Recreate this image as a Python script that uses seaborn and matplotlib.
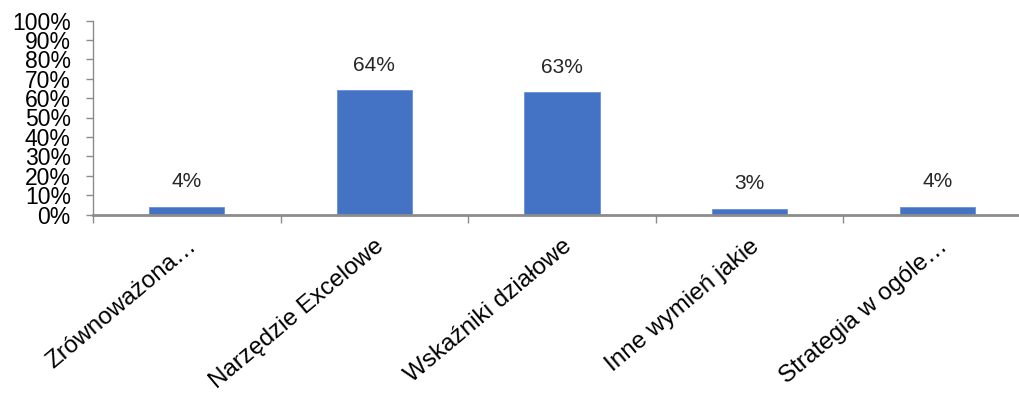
import matplotlib
matplotlib.use("Agg")
import matplotlib.pyplot as plt
import seaborn as sns
import pandas as pd
from matplotlib.ticker import FixedLocator, PercentFormatter

categories = ["Zrównoważona…", "Narzędzie Excelowe", "Wskaźniki działowe",
              "Inne wymień jakie", "Strategia w ogóle…"]
values = [4, 64, 63, 3, 4]
value_labels = ["4%", "64%", "63%", "3%", "4%"]
y_ticks = list(range(0, 101, 10))

sns.set_theme(style="white")
plt.rcParams["font.family"] = ["Liberation Sans", "DejaVu Sans"]

df = pd.DataFrame({"category": categories, "value": values})

fig = plt.figure(figsize=(10.2, 3.95), dpi=100)
ax = fig.add_axes([93 / 1020, 1 - 214.5 / 395, (1031 - 93) / 1020, 194 / 395])

sns.barplot(data=df, x="category", y="value", color="#4472C4", width=0.4,
            saturation=1, edgecolor="#6A8FD4", linewidth=0.6, ax=ax)

ax.set_xlim(-0.5, len(categories) - 0.5)
ax.set_ylim(0, 100)
ax.set_xlabel("")
ax.set_ylabel("")

# value labels above each bar
for i, (v, lab) in enumerate(zip(values, value_labels)):
    ax.annotate(lab, (i, v), xytext=(0, 11), textcoords="offset points",
                ha="center", va="bottom", fontsize=15, color="#262626")

# y axis
ax.set_yticks(y_ticks)
ax.yaxis.set_major_formatter(PercentFormatter(decimals=0))
ax.tick_params(axis="y", which="major", left=True, length=5, width=1,
               color="#8C8C8C", labelsize=16.5, pad=11, labelcolor="black")

# x axis: labels at category centres, tick marks between categories
ax.set_xticks(range(len(categories)))
ax.set_xticklabels(categories, rotation=40, ha="right", rotation_mode="anchor",
                   fontsize=17.5, color="black")
ax.tick_params(axis="x", which="major", length=0, pad=15)
ax.xaxis.set_minor_locator(FixedLocator([i - 0.5 for i in range(len(categories) + 1)]))
ax.tick_params(axis="x", which="minor", bottom=True, length=6, width=1,
               color="#8C8C8C")

for side in ["top", "right"]:
    ax.spines[side].set_visible(False)
ax.spines["left"].set_color("#8C8C8C")
ax.spines["left"].set_linewidth(1)
ax.spines["bottom"].set_color("#8C8C8C")
ax.spines["bottom"].set_linewidth(2)
ax.grid(False)

fig.savefig("out.png", dpi=100)
